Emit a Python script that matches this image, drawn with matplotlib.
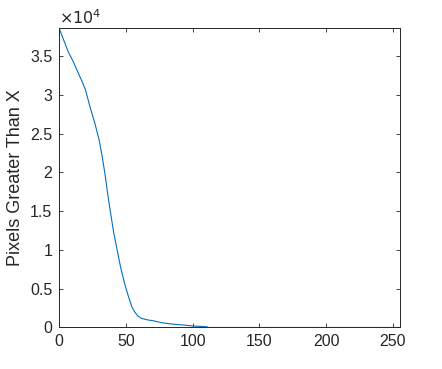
import matplotlib
matplotlib.use("Agg")
import matplotlib.pyplot as plt

# values (x = intensity threshold, y = pixel count)
x_vals = [0, 6.7, 10.5, 15.5, 18, 19.7, 23, 26.7, 29.9, 32.2, 34.2, 35.9,
          37.9, 38.9, 40.9, 43.4, 45.9, 48.9, 51.9, 54.4, 56.4, 58.9, 61.4,
          66.4, 70.1, 76.6, 84.1, 92.8, 100.3, 110.3, 112, 255]
y_vals = [38540, 35560, 34260, 32330, 31340, 30620, 28470, 26320, 24170,
          22020, 19880, 17730, 15370, 14280, 12140, 9990, 7840, 5700, 3970,
          2680, 2040, 1480, 1190, 970, 880, 620, 450, 320, 190, 100, 0, 0]
x_ticks = [0, 50, 100, 150, 200, 250]
y_ticks = [0, 5000, 10000, 15000, 20000, 25000, 30000, 35000]
y_tick_labels = ["0", "0.5", "1", "1.5", "2", "2.5", "3", "3.5"]

plt.rcParams["font.family"] = ["Liberation Sans", "DejaVu Sans"]
AX_COLOR = "#262626"

fig = plt.figure(figsize=(4.42, 3.69), dpi=100)
ax = fig.add_axes([0.134, 0.1125, 0.770, 0.8103])
ax.plot(x_vals, y_vals, color="#0072BD", lw=0.8)

ax.set_xlim(0, 255)
ax.set_ylim(0, 38540)
ax.set_xticks(x_ticks)
ax.set_yticks(y_ticks)
ax.set_yticklabels(y_tick_labels)
ax.tick_params(direction="in", length=3, width=0.6, colors=AX_COLOR,
               labelsize=11.5, top=True, right=True, pad=5)
for s in ax.spines.values():
    s.set_color(AX_COLOR)
    s.set_linewidth(0.7)
ax.set_ylabel("Pixels Greater Than X", fontsize=13, color=AX_COLOR, labelpad=4)
ax.text(0, 1.005, r"$\times10^{4}$", transform=ax.transAxes, fontsize=11.5,
        color=AX_COLOR, ha="left", va="bottom", math_fontfamily="dejavusans")

fig.savefig("out.png", dpi=100)
